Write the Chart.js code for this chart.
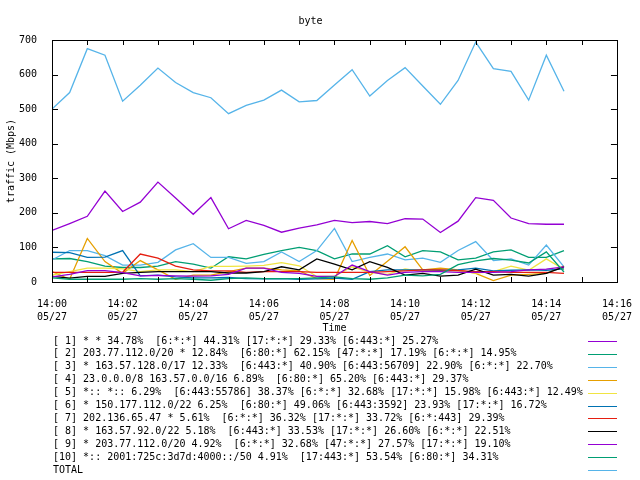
<!DOCTYPE html>
<html>
<head>
<meta charset="utf-8">
<script src="https://cdn.jsdelivr.net/npm/chart.js@4/dist/chart.umd.min.js"></script>
<style>
  body { margin: 0; background: #fff; }
  #chart { display: block; }
</style>
</head>
<body>
<canvas id="chart" width="640" height="480"></canvas>
<script>
// --- data (Mbps, one sample every 30 s) ---
const times = ['14:00:00','14:00:30','14:01:00','14:01:30','14:02:00','14:02:30','14:03:00','14:03:30',
  '14:04:00','14:04:30','14:05:00','14:05:30','14:06:00','14:06:30','14:07:00','14:07:30',
  '14:08:00','14:08:30','14:09:00','14:09:30','14:10:00','14:10:30','14:11:00','14:11:30',
  '14:12:00','14:12:30','14:13:00','14:13:30','14:14:00','14:14:30'];

const s1 = [149,169,190,263,204,231,289,243,196,244,154,178,164,144,156,165,178,172,175,169,183,182,143,176,244,236,185,169,167,167];
const s2 = [67,68,59,46,42,42,46,59,52,40,73,67,80,91,100,91,67,81,81,105,73,91,87,64,69,87,93,71,71,91];
const s3 = [64,91,91,76,49,49,57,93,111,71,71,54,59,87,59,91,155,59,71,81,64,69,57,91,117,62,67,49,107,44];
const s4 = [30,8,126,59,25,62,35,8,20,20,30,40,40,35,32,10,8,120,19,60,102,35,40,35,25,4,20,22,25,46];
const s5 = [20,30,40,40,38,30,35,35,30,45,45,46,48,56,47,16,16,44,28,22,38,30,33,32,26,30,46,34,67,36];
const s6 = [86,85,71,72,91,18,20,15,12,12,13,10,9,10,8,9,11,8,30,35,35,35,34,35,40,32,34,35,34,38];
const s7 = [28,28,28,28,28,81,69,46,35,32,32,28,30,30,30,28,28,28,28,30,32,35,35,33,30,30,28,28,28,25];
const s8 = [16,11,16,16,25,28,30,30,30,30,26,26,30,44,35,67,52,35,59,42,20,25,17,20,37,20,22,17,25,44];
const s9 = [15,22,33,33,27,18,19,18,17,18,22,40,40,28,25,16,16,49,30,20,28,30,30,28,28,28,30,35,37,44];
const s10 = [12,8,8,8,8,10,8,10,8,5,10,12,10,10,10,12,15,10,8,12,20,18,22,50,61,68,63,55,87,29];
const total = [500,548,675,656,523,569,619,577,548,533,487,511,526,555,521,525,570,614,538,583,620,567,514,583,694,617,609,526,656,552];

const seriesLabels = [
  '[ 1] * * 34.78%  [6:*:*] 44.31% [17:*:*] 29.33% [6:443:*] 25.27%',
  '[ 2] 203.77.112.0/20 * 12.84%  [6:80:*] 62.15% [47:*:*] 17.19% [6:*:*] 14.95%',
  '[ 3] * 163.57.128.0/17 12.33%  [6:443:*] 40.90% [6:443:56709] 22.90% [6:*:*] 22.70%',
  '[ 4] 23.0.0.0/8 163.57.0.0/16 6.89%  [6:80:*] 65.20% [6:443:*] 29.37%',
  '[ 5] *:: *:: 6.29%  [6:443:55786] 38.37% [6:*:*] 32.68% [17:*:*] 15.98% [6:443:*] 12.49%',
  '[ 6] * 150.177.112.0/22 6.25%  [6:80:*] 49.06% [6:443:3592] 23.93% [17:*:*] 16.72%',
  '[ 7] 202.136.65.47 * 5.61%  [6:*:*] 36.32% [17:*:*] 33.72% [6:*:443] 29.39%',
  '[ 8] * 163.57.92.0/22 5.18%  [6:443:*] 33.53% [17:*:*] 26.60% [6:*:*] 22.51%',
  '[ 9] * 203.77.112.0/20 4.92%  [6:*:*] 32.68% [47:*:*] 27.57% [17:*:*] 19.10%',
  '[10] *:: 2001:725c:3d7d:4000::/50 4.91%  [17:443:*] 53.54% [6:80:*] 34.31%',
  'TOTAL'
];
const seriesColors = ['#9400d3','#009e73','#56b4e9','#e69f00','#f0e442','#0072b2','#e51e10','#000000','#9400d3','#009e73','#56b4e9'];

const xTickLabels = ['14:00','14:02','14:04','14:06','14:08','14:10','14:12','14:14','14:16'];
const dateLabel = '05/27';
const yTicks = [0,100,200,300,400,500,600,700];

const FONT = "'DejaVu Sans Mono', monospace";

// minutes after 14:00
function toMin(t) {
  const p = t.split(':').map(Number);
  return (p[0] - 14) * 60 + p[1] + p[2] / 60;
}

const allSeries = [s1, s2, s3, s4, s5, s6, s7, s8, s9, s10, total];

const datasets = allSeries.map((vals, i) => ({
  label: seriesLabels[i],
  data: vals.map((v, k) => ({ x: toMin(times[k]), y: v })),
  borderColor: seriesColors[i],
  backgroundColor: seriesColors[i],
  borderWidth: 1.3,
  pointRadius: 0,
  tension: 0,
  fill: false,
  order: allSeries.length - i // later series drawn on top, like gnuplot
}));

// border box + inward tick marks on all four sides, then the key
const framePlugin = {
  id: 'frame',
  afterDraw(chart) {
    const { ctx, chartArea: a, scales } = chart;
    ctx.save();
    ctx.strokeStyle = '#000';
    ctx.lineWidth = 1;
    ctx.beginPath();
    scales.x.ticks.forEach(t => {
      const px = Math.round(scales.x.getPixelForValue(t.value)) + 0.5;
      ctx.moveTo(px, a.bottom); ctx.lineTo(px, a.bottom - 5);
      ctx.moveTo(px, a.top); ctx.lineTo(px, a.top + 5);
    });
    scales.y.ticks.forEach(t => {
      const py = Math.round(scales.y.getPixelForValue(t.value)) + 0.5;
      ctx.moveTo(a.left, py); ctx.lineTo(a.left + 6, py);
      ctx.moveTo(a.right, py); ctx.lineTo(a.right - 6, py);
    });
    ctx.stroke();
    ctx.strokeRect(Math.round(a.left) + 0.5, Math.round(a.top) + 0.5,
      Math.round(a.right - a.left), Math.round(a.bottom - a.top));

    // key below the plot: text on the left, line sample on the right
    ctx.font = '10px ' + FONT;
    ctx.fillStyle = '#000';
    ctx.textBaseline = 'middle';
    ctx.textAlign = 'left';
    seriesLabels.forEach((lab, i) => {
      const y = 341 + i * 12.9;
      ctx.fillText(lab, 53, y);
      ctx.beginPath();
      ctx.strokeStyle = seriesColors[i];
      ctx.moveTo(588, Math.round(y) + 0.5);
      ctx.lineTo(617, Math.round(y) + 0.5);
      ctx.stroke();
    });
    ctx.restore();
  }
};

new Chart(document.getElementById('chart'), {
  type: 'line',
  data: { datasets },
  plugins: [framePlugin],
  options: {
    responsive: false,
    animation: false,
    devicePixelRatio: 1,
    layout: { padding: { left: 0, right: 19, top: 0, bottom: 145 } },
    plugins: {
      legend: { display: false },
      tooltip: { enabled: false },
      title: {
        display: true,
        text: 'byte',
        color: '#000',
        font: { family: FONT, size: 10, weight: 'normal' },
        padding: { top: 15, bottom: 13 }
      }
    },
    scales: {
      x: {
        type: 'linear',
        min: 0,
        max: 16,
        grid: { display: false },
        border: { display: false },
        afterFit(scale) { scale.height = 53; },
        ticks: {
          stepSize: 1,
          autoSkip: false,
          maxRotation: 0,
          padding: 8,
          color: '#000',
          font: { family: FONT, size: 10, lineHeight: 1.3 },
          callback: v => (v % 2 === 0 ? [xTickLabels[v / 2], dateLabel] : '')
        },
        title: {
          display: true,
          text: 'Time',
          color: '#000',
          font: { family: FONT, size: 10, lineHeight: 1.3 },
          padding: { top: 0, bottom: 0 }
        }
      },
      y: {
        min: yTicks[0],
        max: yTicks[yTicks.length - 1],
        grid: { display: false },
        border: { display: false },
        afterFit(scale) { scale.width = 52; },
        afterBuildTicks(scale) { scale.ticks = yTicks.map(v => ({ value: v })); },
        ticks: {
          padding: 7,
          color: '#000',
          font: { family: FONT, size: 10 }
        },
        title: {
          display: true,
          text: 'traffic (Mbps)',
          color: '#000',
          font: { family: FONT, size: 10 },
          padding: { top: 5, bottom: 0 }
        }
      }
    }
  }
});
</script>
</body>
</html>
